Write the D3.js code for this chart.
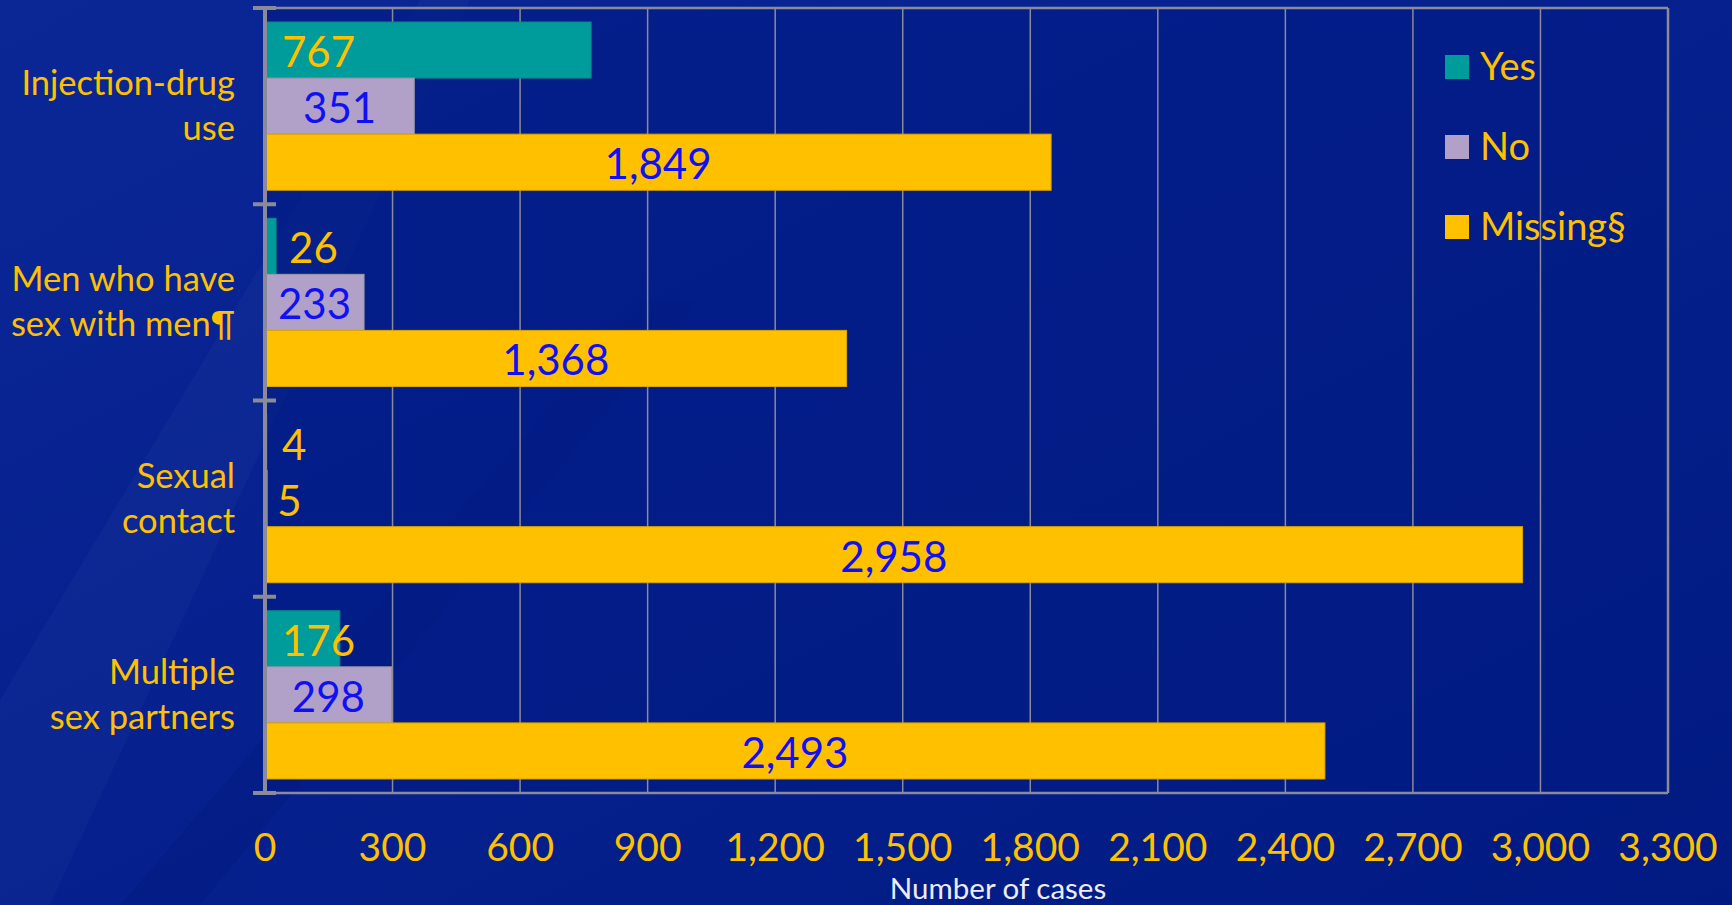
<!DOCTYPE html>
<html>
<head>
<meta charset="utf-8">
<script src="https://cdn.jsdelivr.net/npm/d3@7"></script>
<style>
  html, body { margin: 0; padding: 0; background: #031b86; overflow: hidden; }
  text { font-family: Lato, "Open Sans", sans-serif; }
</style>
</head>
<body>
<div id="chart"></div>
<script>
// data
var categories = ["Injection-drug use", "Men who have sex with men¶", "Sexual contact", "Multiple sex partners"];
var catLines = [["Injection-drug", "use"], ["Men who have", "sex with men¶"], ["Sexual", "contact"], ["Multiple", "sex partners"]];
var series = ["Yes", "No", "Missing§"];
var yesVals = [767, 26, 4, 176];
var noVals = [351, 233, 5, 298];
var missingVals = [1849, 1368, 2958, 2493];
var xTicks = [0, 300, 600, 900, 1200, 1500, 1800, 2100, 2400, 2700, 3000, 3300];

var colors = { "Yes": "#009b9b", "No": "#b1a1c8", "Missing§": "#ffc000" };
var edge = { "Yes": "#0a8a8a", "No": "#9a9aa8", "Missing§": "#d9a400" };

var W = 1732, H = 905;
var margin = { top: 8, right: 64, bottom: 112, left: 265 };
var w = W - margin.left - margin.right;
var h = H - margin.top - margin.bottom;

var rows = categories.map(function (c, i) {
	return { cat: c, lines: catLines[i], vals: [yesVals[i], noVals[i], missingVals[i]] };
});

var svg = d3.select("#chart").append("svg")
	.attr("width", W)
	.attr("height", H);

// background
var defs = svg.append("defs");
var bg = defs.append("linearGradient").attr("id", "bg")
	.attr("x1", "0").attr("y1", "0").attr("x2", "1").attr("y2", "1");
bg.append("stop").attr("offset", "0%").attr("stop-color", "#0b2796");
bg.append("stop").attr("offset", "45%").attr("stop-color", "#06218e");
bg.append("stop").attr("offset", "100%").attr("stop-color", "#011a82");
svg.append("rect").attr("width", W).attr("height", H).attr("fill", "url(#bg)");

// faint diagonal streaks
svg.append("path")
	.attr("d", "M0,700 L420,0 L470,0 L50,905 L0,905 Z")
	.attr("fill", "#ffffff").attr("opacity", 0.025);
svg.append("path")
	.attr("d", "M120,905 L640,300 L700,300 L200,905 Z")
	.attr("fill", "#000040").attr("opacity", 0.08);

var g = svg.append("g")
	.attr("transform", "translate(" + margin.left + "," + margin.top + ")");

var x = d3.scaleLinear().domain([0, 3300]).range([0, w]);
var y0 = d3.scaleBand().domain(categories).range([0, h]);
var y1 = d3.scaleBand().domain(series).range([0, y0.bandwidth()]).paddingOuter(0.25);

// plot area
g.append("rect").attr("width", w).attr("height", h)
	.attr("fill", "#021a84").attr("opacity", 0.6);

// gridlines
g.selectAll("line.grid")
	.data(xTicks.slice(1))
	.enter().append("line")
	.attr("class", "grid")
	.attr("x1", function (d) { return x(d); })
	.attr("x2", function (d) { return x(d); })
	.attr("y1", 0).attr("y2", h)
	.attr("stroke", "#8a8a98")
	.attr("stroke-width", function (d) { return d === 3300 ? 2.5 : 1.5; });

g.append("line").attr("x1", 0).attr("x2", w).attr("y1", 0).attr("y2", 0)
	.attr("stroke", "#8a8a98").attr("stroke-width", 2.5);
g.append("line").attr("x1", 0).attr("x2", w).attr("y1", h).attr("y2", h)
	.attr("stroke", "#8a8a98").attr("stroke-width", 2.5);

// bars
var cat = g.selectAll("g.cat")
	.data(rows)
	.enter().append("g")
	.attr("class", "cat")
	.attr("transform", function (d) { return "translate(0," + y0(d.cat) + ")"; });

cat.selectAll("rect")
	.data(function (d) { return d.vals.map(function (v, j) { return { s: series[j], v: v }; }); })
	.enter().append("rect")
	.attr("x", x(0))
	.attr("y", function (d) { return y1(d.s); })
	.attr("width", function (d) { return x(d.v) - x(0); })
	.attr("height", y1.bandwidth())
	.attr("fill", function (d) { return colors[d.s]; })
	.attr("stroke", function (d) { return edge[d.s]; })
	.attr("stroke-width", 1);

// value labels
var fmt = d3.format(",");
cat.selectAll("text.val")
	.data(function (d) { return d.vals.map(function (v, j) { return { s: series[j], v: v }; }); })
	.enter().append("text")
	.attr("class", "val")
	.attr("y", function (d) { return y1(d.s) + y1.bandwidth() / 2 + 17; })
	.attr("x", function (d) {
		var bw = x(d.v) - x(0);
		if (d.s === "Yes") return bw < 30 ? Math.max(17, bw + 13) : 17;
		if (bw < 30) return bw + 10;
		return x(d.v) / 2;
	})
	.attr("text-anchor", function (d) {
		var bw = x(d.v) - x(0);
		return (d.s === "Yes" || bw < 30) ? "start" : "middle";
	})
	.attr("fill", function (d) {
		var bw = x(d.v) - x(0);
		return (d.s === "Yes" || bw < 30) ? "#ffc000" : "#1010f5";
	})
	.style("font-size", "42px")
	.text(function (d) { return fmt(d.v); });

// category labels
cat.append("text")
	.attr("text-anchor", "end")
	.attr("fill", "#ffc000")
	.style("font-size", "34.5px")
	.selectAll("tspan")
	.data(function (d) { return d.lines; })
	.enter().append("tspan")
	.attr("x", -30)
	.attr("y", function (d, i) { return y0.bandwidth() / 2 - 11 + i * 45; })
	.text(function (d) { return d; });

// left axis with crossing ticks
g.append("line").attr("x1", 0).attr("x2", 0).attr("y1", -1).attr("y2", h + 1)
	.attr("stroke", "#8a8a98").attr("stroke-width", 4);
g.selectAll("line.ytick")
	.data(categories.map(function (c) { return y0(c); }).concat([h]))
	.enter().append("line")
	.attr("class", "ytick")
	.attr("x1", -12).attr("x2", 11)
	.attr("y1", function (d) { return d; })
	.attr("y2", function (d) { return d; })
	.attr("stroke", "#8a8a98").attr("stroke-width", 4);

// x tick labels
g.selectAll("text.xt")
	.data(xTicks)
	.enter().append("text")
	.attr("class", "xt")
	.attr("x", function (d) { return x(d); })
	.attr("y", h + 68)
	.attr("text-anchor", "middle")
	.attr("fill", "#ffc000")
	.style("font-size", "39px")
	.text(function (d) { return fmt(d); });

// axis title
svg.append("text")
	.attr("x", 998)
	.attr("y", 899)
	.attr("text-anchor", "middle")
	.attr("fill", "#ececf4")
	.style("font-size", "29.5px")
	.text("Number of cases");

// legend
var leg = svg.append("g").attr("transform", "translate(1445,55)");
var li = leg.selectAll("g")
	.data(series)
	.enter().append("g")
	.attr("transform", function (d, i) { return "translate(0," + (i * 80) + ")"; });
li.append("rect").attr("width", 24).attr("height", 24)
	.attr("fill", function (d) { return colors[d]; });
li.append("text").attr("x", 35).attr("y", 25)
	.attr("fill", "#ffc000")
	.style("font-size", "38px")
	.text(function (d) { return d; });
</script>
</body>
</html>
